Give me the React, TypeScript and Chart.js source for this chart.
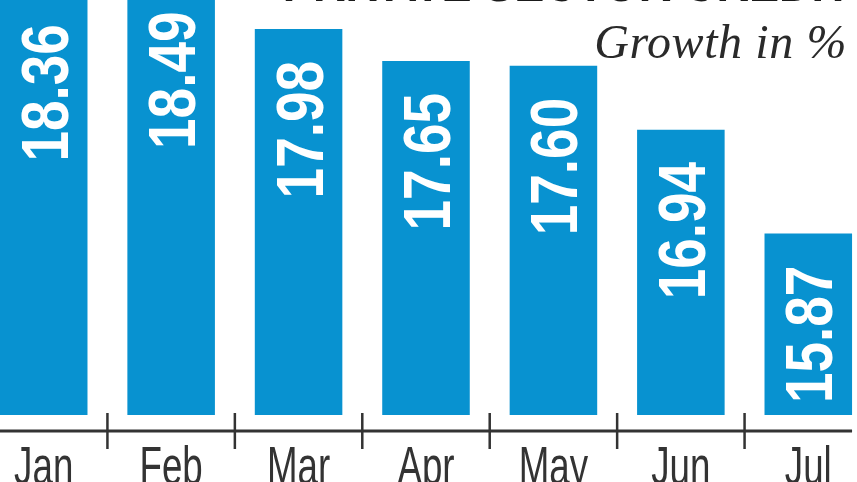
import React, { useEffect, useRef } from 'react';
import { Chart, registerables } from 'chart.js';

Chart.register(...registerables);

// ---- data ----
const months = ['Jan', 'Feb', 'Mar', 'Apr', 'May', 'Jun', 'Jul'];
const growth = [18.36, 18.49, 17.98, 17.65, 17.6, 16.94, 15.87];
const valueLabels = ['18.36', '18.49', '17.98', '17.65', '17.60', '16.94', '15.87'];
const titleText = 'PRIVATE SECTOR CREDIT';
const subtitleText = 'Growth in %';
const yMin = 14;
const yMax = 19;

const SANS = '"Liberation Sans", Arial, sans-serif';
const NARROW = 0.82; // horizontal squeeze to mimic a condensed face
const LABEL_NARROW = 0.68;
const BLUE = '#0892d0';
const DARK = '#333333';

const decorPlugin = {
  id: 'decor',
  afterDatasetsDraw(chart: any) {
    const ctx = chart.ctx as CanvasRenderingContext2D;
    const bars = chart.getDatasetMeta(0).data as any[];
    const xs = chart.scales.x;
    const area = chart.chartArea;
    ctx.save();
    // value labels, rotated
    const fs = 67;
    const cap = fs * 0.716;
    ctx.fillStyle = '#ffffff';
    ctx.font = `bold ${fs}px ${SANS}`;
    ctx.textAlign = 'right';
    ctx.textBaseline = 'alphabetic';
    bars.forEach((bar, i) => {
      ctx.save();
      ctx.translate(bar.x + cap / 2, bar.y + 32);
      ctx.rotate(-Math.PI / 2);
      ctx.scale(NARROW, 1);
      ctx.fillText(valueLabels[i], 0, 0);
      ctx.restore();
    });
    // axis line
    const first = bars[0];
    const last = bars[bars.length - 1];
    const y0 = area.bottom + 16;
    ctx.strokeStyle = DARK;
    ctx.lineWidth = 3;
    ctx.beginPath();
    ctx.moveTo(first.x - first.width / 2, y0);
    ctx.lineTo(last.x + last.width / 2, y0);
    ctx.stroke();
    // tick marks between categories
    ctx.lineWidth = 2.5;
    ctx.beginPath();
    for (let i = 0; i < bars.length - 1; i++) {
      const bx = (xs.getPixelForValue(i) + xs.getPixelForValue(i + 1)) / 2;
      ctx.moveTo(bx, area.bottom - 2);
      ctx.lineTo(bx, area.bottom + 34);
    }
    ctx.stroke();
    // category labels (condensed)
    ctx.fillStyle = DARK;
    ctx.font = `54px ${SANS}`;
    ctx.textAlign = 'center';
    ctx.textBaseline = 'alphabetic';
    months.forEach((m, i) => {
      ctx.save();
      ctx.translate(xs.getPixelForValue(i), area.bottom + 69);
      ctx.scale(LABEL_NARROW, 1);
      ctx.fillText(m, 0, 0);
      ctx.restore();
    });
    ctx.restore();
  },
};

export default function App() {
  const canvasRef = useRef<HTMLCanvasElement | null>(null);

  useEffect(() => {
    if (!canvasRef.current) return;
    const chart = new Chart(canvasRef.current, {
      type: 'bar',
      data: {
        labels: months,
        datasets: [
          {
            data: growth,
            backgroundColor: BLUE,
            borderWidth: 0,
            barPercentage: 0.687,
            categoryPercentage: 1,
          },
        ],
      },
      options: {
        animation: false,
        responsive: true,
        maintainAspectRatio: false,
        layout: { padding: 0 },
        plugins: {
          legend: { display: false },
          tooltip: { enabled: false },
          title: { display: false },
        },
        scales: {
          x: {
            offset: true,
            grid: { display: false, drawTicks: false },
            border: { display: false },
            ticks: { display: false },
            afterFit: (s: any) => {
              s.height = 70;
            },
          },
          y: { display: false, min: yMin, max: yMax },
        },
      },
      plugins: [decorPlugin],
    });
    return () => chart.destroy();
  }, []);

  return (
    <div
      style={{
        position: 'fixed',
        left: 0,
        top: 0,
        width: 857,
        height: 482,
        overflow: 'hidden',
        background: '#ffffff',
      }}
    >
      <div style={{ position: 'absolute', left: -20, top: -70, width: 892, height: 555 }}>
        <canvas ref={canvasRef} style={{ display: 'block' }} />
      </div>
      <div
        style={{
          position: 'absolute',
          right: 5,
          top: -45,
          font: `bold 55px ${SANS}`,
          lineHeight: '55px',
          color: '#1a1a1a',
          whiteSpace: 'nowrap',
          transform: `scaleX(${NARROW})`,
          transformOrigin: 'right top',
        }}
      >
        {titleText}
      </div>
      <div
        style={{
          position: 'absolute',
          right: 10,
          top: 19,
          font: `italic 48px "Liberation Serif", "DejaVu Serif", serif`,
          lineHeight: '46px',
          letterSpacing: '0.6px',
          color: '#2a2a2a',
          whiteSpace: 'nowrap',
        }}
      >
        {subtitleText}
      </div>
    </div>
  );
}
